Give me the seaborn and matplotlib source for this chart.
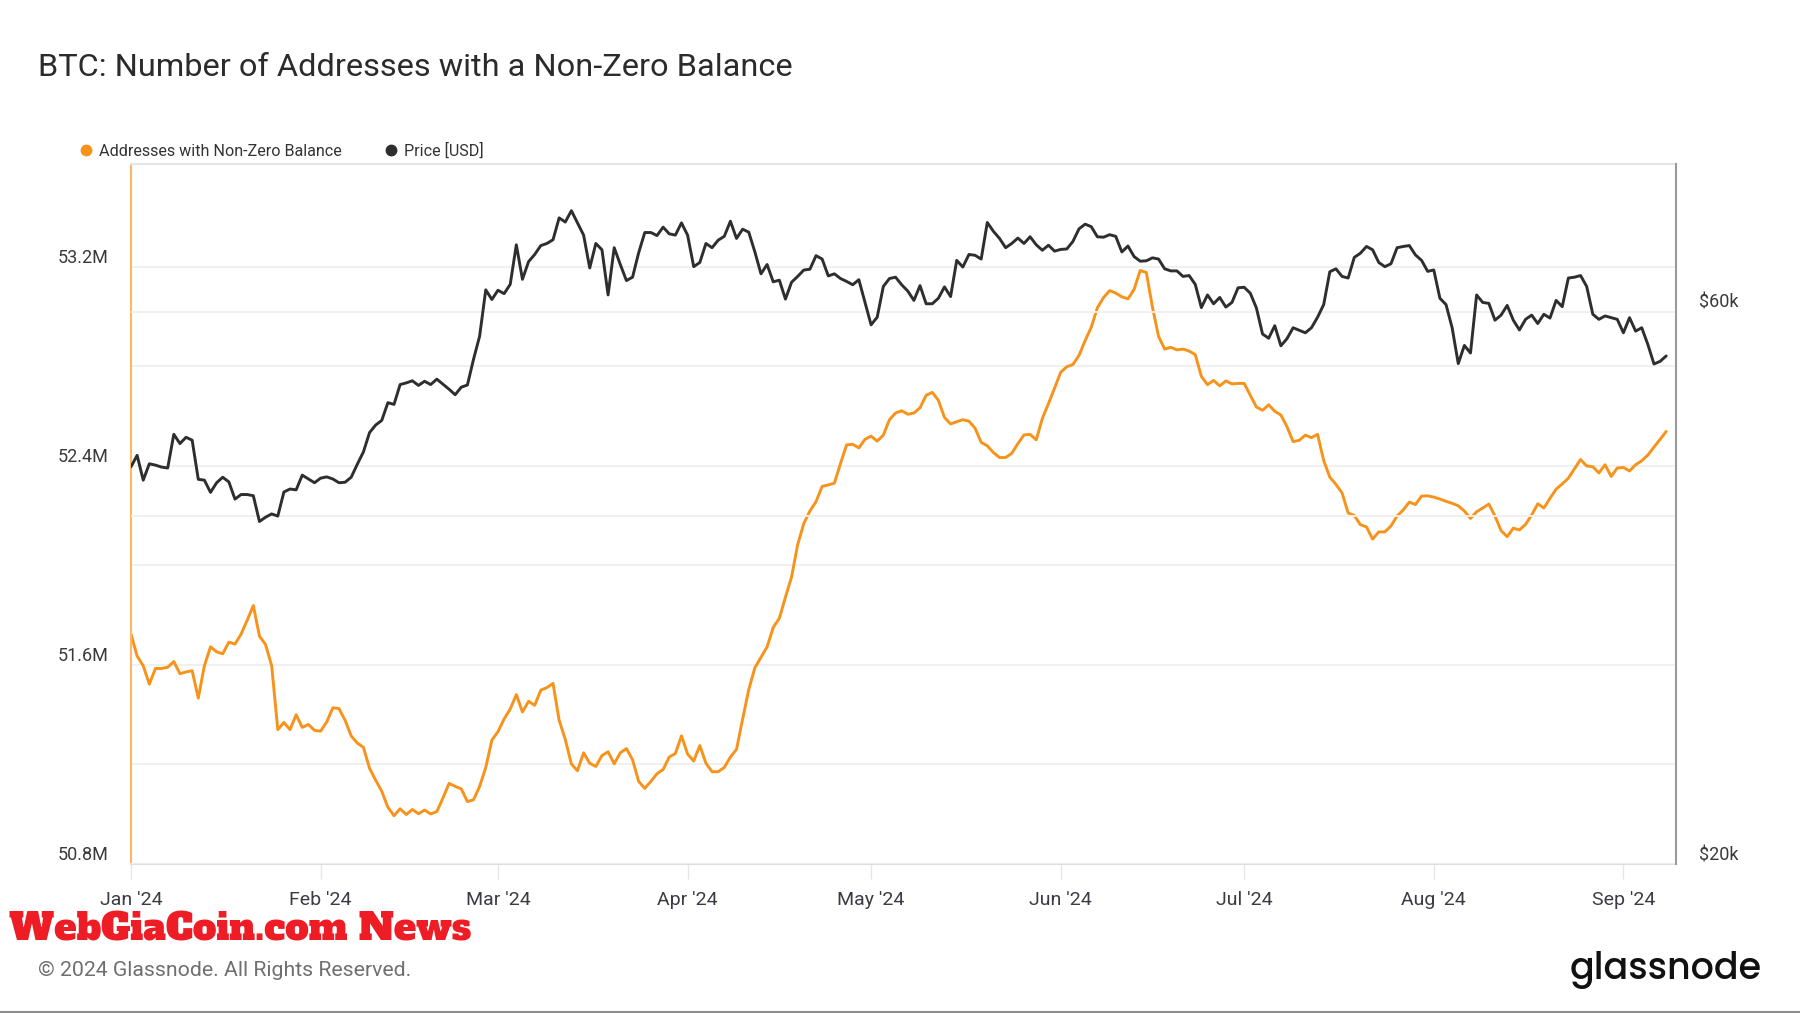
import numpy as np
import pandas as pd
import matplotlib
matplotlib.use("Agg")
import matplotlib.pyplot as plt
import matplotlib.dates as mdates
from matplotlib.ticker import NullFormatter
from matplotlib.lines import Line2D
import seaborn as sns

# ---------------- data ----------------
start_date = "2024-01-01"

addresses_m = [
    51.724, 51.636, 51.597, 51.523, 51.586, 51.586, 51.591, 51.614, 51.565, 51.572,
    51.577, 51.467, 51.597, 51.673, 51.653, 51.645, 51.692, 51.684, 51.724, 51.780,
    51.839, 51.716, 51.682, 51.597, 51.340, 51.369, 51.340, 51.400, 51.349, 51.361,
    51.337, 51.334, 51.371, 51.428, 51.425, 51.378, 51.315, 51.286, 51.269, 51.185,
    51.137, 51.092, 51.028, 50.994, 51.022, 50.999, 51.019, 51.002, 51.017, 51.001,
    51.011, 51.065, 51.124, 51.112, 51.102, 51.051, 51.058, 51.112, 51.188, 51.298,
    51.332, 51.383, 51.423, 51.481, 51.411, 51.454, 51.438, 51.499, 51.509, 51.526,
    51.378, 51.301, 51.202, 51.175, 51.247, 51.205, 51.192, 51.236, 51.251, 51.203,
    51.247, 51.264, 51.219, 51.132, 51.104, 51.132, 51.163, 51.180, 51.230, 51.244,
    51.315, 51.242, 51.214, 51.276, 51.205, 51.171, 51.171, 51.188, 51.230, 51.261,
    51.383, 51.501, 51.589, 51.631, 51.673, 51.751, 51.788, 51.873, 51.954, 52.084,
    52.169, 52.219, 52.257, 52.318, 52.324, 52.331, 52.410, 52.485, 52.487, 52.473,
    52.507, 52.520, 52.500, 52.524, 52.586, 52.613, 52.622, 52.608, 52.613, 52.634,
    52.684, 52.696, 52.664, 52.595, 52.569, 52.578, 52.586, 52.580, 52.552, 52.495,
    52.481, 52.454, 52.434, 52.434, 52.451, 52.490, 52.525, 52.527, 52.505, 52.591,
    52.651, 52.713, 52.777, 52.799, 52.808, 52.845, 52.904, 52.958, 53.036, 53.077,
    53.105, 53.095, 53.080, 53.072, 53.110, 53.186, 53.178, 53.039, 52.921, 52.870,
    52.877, 52.867, 52.870, 52.862, 52.848, 52.760, 52.727, 52.744, 52.722, 52.742,
    52.730, 52.732, 52.732, 52.684, 52.637, 52.624, 52.646, 52.620, 52.605, 52.558,
    52.498, 52.503, 52.524, 52.514, 52.527, 52.422, 52.355, 52.326, 52.292, 52.211,
    52.201, 52.164, 52.155, 52.106, 52.135, 52.135, 52.159, 52.199, 52.223, 52.255,
    52.245, 52.279, 52.280, 52.275, 52.267, 52.258, 52.250, 52.240, 52.219, 52.189,
    52.216, 52.231, 52.247, 52.199, 52.140, 52.116, 52.150, 52.143, 52.165, 52.203,
    52.248, 52.231, 52.270, 52.307, 52.328, 52.351, 52.389, 52.426, 52.400, 52.397,
    52.372, 52.405, 52.358, 52.392, 52.394, 52.380, 52.405, 52.421, 52.444, 52.476,
    52.507, 52.539,
]

price_usd = [
    44080, 45090, 42920, 44340, 44220, 44050, 43970, 47020, 46160, 46740,
    46470, 42990, 42920, 41890, 42700, 43170, 42770, 41330, 41710, 41710,
    41610, 39530, 39870, 40130, 39960, 41920, 42170, 42100, 43350, 43020,
    42700, 43090, 43200, 43020, 42700, 42740, 43170, 44300, 45400, 47180,
    47890, 48340, 50070, 49900, 51910, 52080, 52300, 51820, 52250, 51910,
    52470, 51950, 51430, 50870, 51640, 51860, 54580, 57160, 62670, 61480,
    62620, 62200, 63360, 68550, 64000, 66290, 67240, 68440, 68730, 69240,
    72320, 71720, 73360, 71600, 69880, 65460, 68730, 67870, 62040, 68150,
    65910, 63840, 64270, 67470, 70240, 70240, 69820, 71000, 70060, 69880,
    71600, 69880, 65630, 66180, 68730, 68150, 69180, 69710, 71840, 69420,
    70710, 70290, 67580, 64700, 65910, 63680, 63890, 61530, 63630, 64370,
    65190, 65300, 67080, 66630, 64430, 64700, 64100, 63730, 63310, 63950,
    61120, 58460, 59350, 63090, 64100, 64270, 63310, 62520, 61370, 63200,
    60960, 60960, 61630, 63040, 61840, 66460, 65580, 67240, 67130, 66630,
    71660, 70410, 69420, 68150, 68730, 69470, 68730, 69650, 68550, 67810,
    68490, 67690, 67920, 67980, 69010, 70760, 71420, 71060, 69650, 69590,
    69940, 69710, 67580, 68380, 66960, 66350, 66400, 66790, 66630, 65350,
    65080, 65080, 64370, 64480, 63360, 60500, 62040, 60960, 61730, 60560,
    61120, 62930, 62990, 62250, 60450, 57400, 56920, 58360, 56070, 56870,
    58120, 57830, 57540, 58120, 59350, 60860, 64970, 65350, 64370, 64160,
    66850, 67410, 68320, 67870, 66180, 65630, 66010, 68150, 68320, 68440,
    67180, 66460, 65020, 65200, 61630, 60860, 58120, 54120, 56110, 55270,
    62040, 61120, 61010, 59000, 59600, 60760, 59000, 57870, 59100, 59600,
    58610, 59700, 59250, 61370, 60610, 64160, 64270, 64480, 63090, 59700,
    59100, 59500, 59300, 59100, 57540, 59300, 57730, 58120, 56210, 54080,
    54360, 54950,
]

left_ticks_m = [50.8, 51.6, 52.4, 53.2]
left_tick_labels = ["50.8M", "51.6M", "52.4M", "53.2M"]
left_minor_m = [51.2, 52.0, 52.8]
right_ticks = [20000, 60000]
right_tick_labels = ["$20k", "$60k"]
right_minor = [40000]

title_text = "BTC: Number of Addresses with a Non-Zero Balance"
series_names = ["Addresses with Non-Zero Balance", "Price [USD]"]
footer_text = "\u00a9 2024 Glassnode. All Rights Reserved."
watermark_text = "WebGiaCoin.com News"
logo_text = "glassnode"

# ---------------- style ----------------
ORANGE = "#f7931a"
DARK = "#2e2e2e"
GRID = "#efefef"

sns.set_theme(style="white")
plt.rcParams["font.family"] = ["Roboto", "DejaVu Sans"]

W, H = 1800, 1013
fig = plt.figure(figsize=(W / 100, H / 100), dpi=100)
fig.patch.set_facecolor("white")


def fx(px):
    return px / W


def fy(py):
    return 1 - py / H


L, R, T, B = 131, 1676, 164, 864
ax = fig.add_axes([fx(L), fy(B), fx(R) - fx(L), fy(T) - fy(B)])
ax2 = ax.twinx()

dates = pd.date_range(start_date, periods=len(addresses_m), freq="D")
df = pd.DataFrame({"date": dates, "addresses": addresses_m, "price": price_usd})

sns.lineplot(data=df, x="date", y="addresses", ax=ax, color=ORANGE, linewidth=2.1)
sns.lineplot(data=df, x="date", y="price", ax=ax2, color=DARK, linewidth=2.1)

t0 = pd.Timestamp(start_date)
ax.set_xlim(t0, t0 + pd.Timedelta(days=252.6))
ax.set_ylim(50.8, 53.614)
ax2.set_yscale("log")
ax2.set_ylim(20000, 80500)

ax.set_yticks(left_ticks_m, labels=left_tick_labels)
ax.set_yticks(left_minor_m, minor=True)
ax.yaxis.set_minor_formatter(NullFormatter())
ax.tick_params(axis="y", which="both", length=0, pad=16, labelsize=13,
               labelcolor="#3a3a3a")
ax2.set_yticks(right_ticks, labels=right_tick_labels)
ax2.set_yticks(right_minor, minor=True)
ax2.yaxis.set_minor_formatter(NullFormatter())
ax2.tick_params(axis="y", which="both", length=0, pad=16.5, labelsize=13,
                labelcolor="#3a3a3a")
for lab in ax.get_yticklabels() + ax2.get_yticklabels():
    lab.set_verticalalignment("bottom")

ax.xaxis.set_major_locator(mdates.MonthLocator())
ax.xaxis.set_major_formatter(mdates.DateFormatter("%b '%y"))
ax.tick_params(axis="x", which="major", length=10.5, width=1, color="#e6e6e6",
               pad=9, labelsize=14, labelcolor="#3b3b45", bottom=True)

ax.set_xlabel("")
ax.set_ylabel("")
ax2.set_ylabel("")

ax.grid(False)
ax2.grid(False)
ax.yaxis.grid(True, which="both", color=GRID, linewidth=1.3)
ax2.yaxis.grid(True, which="both", color=GRID, linewidth=1.3)
ax.xaxis.grid(False)

for s in ["left", "top", "bottom"]:
    ax2.spines[s].set_visible(False)
ax.spines["right"].set_visible(False)
ax.spines["left"].set_color("#fbb868")
ax.spines["left"].set_linewidth(1.5)
ax.spines["top"].set_color("#e6e6e6")
ax.spines["top"].set_linewidth(1.5)
ax.spines["bottom"].set_color("#dedede")
ax.spines["bottom"].set_linewidth(1.5)
ax2.spines["right"].set_color("#9a9a9a")
ax2.spines["right"].set_linewidth(1.5)

handles = [
    Line2D([], [], marker="o", ls="", color=ORANGE, markersize=7.5, label=series_names[0]),
    Line2D([], [], marker="o", ls="", color=DARK, markersize=7.5, label=series_names[1]),
]
fig.legend(handles=handles, loc="center left", bbox_to_anchor=(fx(80), fy(151)),
           ncol=2, frameon=False, fontsize=11.6, handlelength=0.8, handletextpad=0.4,
           columnspacing=2.65, borderpad=0, borderaxespad=0, labelcolor="#333333")

title = fig.text(fx(38), fy(68), title_text, ha="left", va="center",
                 fontsize=21, color="#2b2b2b")
footer = fig.text(fx(38), fy(970), footer_text, ha="left", va="center",
                  fontsize=14, color="#6f6f6f")
wm = fig.text(fx(9), fy(930), watermark_text, ha="left", va="center",
              fontsize=34, color="#ee1c24",
              family=["Alfa Slab One", "DejaVu Serif"])
logo = fig.text(fx(1570), fy(970), logo_text, ha="left", va="center",
                fontsize=28, fontweight="medium", color="#111111",
                family=["Poppins", "Lato", "DejaVu Sans"])

fig.add_artist(Line2D([0, 1], [fy(1011.5), fy(1011.5)], transform=fig.transFigure,
                      color="#8c8c8c", linewidth=1.5))

renderer = fig.canvas.get_renderer()
for txt, target in [(title, 752), (footer, 376), (wm, 463), (logo, 192)]:
    w = txt.get_window_extent(renderer=renderer).width
    txt.set_fontsize(txt.get_fontsize() * target / w)

fig.savefig("out.png", dpi=100, facecolor="white")
